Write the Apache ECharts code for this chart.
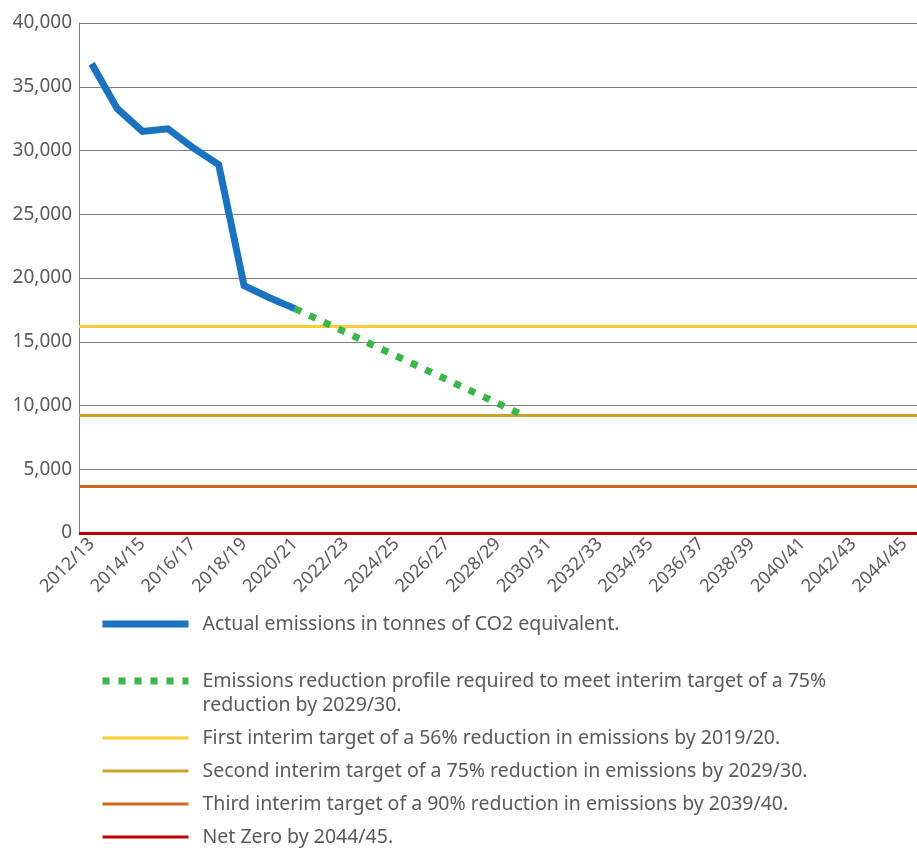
<!DOCTYPE html>
<html>
<head>
<meta charset="utf-8">
<script src="https://cdn.jsdelivr.net/npm/echarts@6/dist/echarts.min.js"></script>
<style>
html,body{margin:0;padding:0;background:#fff;}
#chart{width:917px;height:850px;}
</style>
</head>
<body>
<div id="chart"></div>
<script>
const categories = ['2012/13','2013/14','2014/15','2015/16','2016/17','2017/18','2018/19','2019/20','2020/21','2021/22','2022/23','2023/24','2024/25','2025/26','2026/27','2027/28','2028/29','2029/30','2030/31','2031/32','2032/33','2033/34','2034/35','2035/36','2036/37','2037/38','2038/39','2039/40','2040/41','2041/42','2042/43','2043/44','2044/45'];
const actualEmissions = [36800, 33300, 31500, 31700, 30200, 28900, 19400, 18450, 17600];
// Reduction profile: known endpoints only (2020/21 and 2029/30), joined as a straight line
const profileCategories = ['2020/21', '2029/30'];
const profileValues = [17600, 9225];
const firstTarget = 16236;
const secondTarget = 9225;
const thirdTarget = 3690;
const netZero = 0;
const yTicks = {min: 0, max: 40000, interval: 5000};

const names = {
  actual: 'Actual emissions in tonnes of CO2 equivalent.',
  // leading blank line keeps the first text line level with the legend icon
  profile: '\nEmissions reduction profile required to meet interim target of a 75%\nreduction by 2029/30.',
  first: 'First interim target of a 56% reduction in emissions by 2019/20.',
  second: 'Second interim target of a 75% reduction in emissions by 2029/30.',
  third: 'Third interim target of a 90% reduction in emissions by 2039/40.',
  zero: 'Net Zero by 2044/45.'
};

const FONT = 'Noto Sans';
const TXT = '#5a5a5a';

const actualData = categories.map((c, i) => i < actualEmissions.length ? actualEmissions[i] : null);
const profileData = categories.map(c => {
  const k = profileCategories.indexOf(c);
  return k >= 0 ? profileValues[k] : null;
});

function targetSeries(name, value, color, z) {
  return {
    name: name, type: 'line', data: [], color: color, symbol: 'none', z: z,
    lineStyle: {color: color, width: 3},
    markLine: {
      silent: true, symbol: ['none', 'none'], animation: false,
      label: {show: false},
      lineStyle: {color: color, width: 3, type: 'solid'},
      emphasis: {disabled: true},
      data: [{yAxis: value}]
    }
  };
}

const chart = echarts.init(document.getElementById('chart'), null, {renderer: 'canvas'});
chart.setOption({
  animation: false,
  backgroundColor: '#fff',
  textStyle: {fontFamily: FONT},
  grid: {left: 79, right: 0, top: 23, bottom: 317, containLabel: false},
  xAxis: {
    type: 'category', data: categories, boundaryGap: true,
    axisLine: {show: true, lineStyle: {color: '#808080', width: 1}},
    axisTick: {show: false},
    axisLabel: {rotate: 45, interval: 1, color: TXT, fontSize: 18, fontFamily: FONT, margin: 8}
  },
  yAxis: {
    type: 'value', min: yTicks.min, max: yTicks.max, interval: yTicks.interval,
    axisLine: {show: true, lineStyle: {color: '#808080', width: 1}},
    axisTick: {show: false},
    splitLine: {show: true, lineStyle: {color: '#808080', width: 1}},
    axisLabel: {color: TXT, fontSize: 19, fontFamily: FONT, margin: 7}
  },
  legend: {
    orient: 'vertical', left: 99, top: 612, padding: 0, height: 238,
    itemWidth: 86, itemHeight: 14, itemGap: 9,
    selectedMode: false,
    lineStyle: {width: 'inherit'},
    itemStyle: {opacity: 0},
    textStyle: {color: TXT, fontSize: 19.5, fontFamily: FONT, lineHeight: 24, padding: [0, 0, 0, 9]},
    data: [names.actual, names.profile, names.first, names.second, names.third, names.zero]
  },
  series: [
    {
      name: names.actual, type: 'line', data: actualData, color: '#1b72be', symbol: 'none', z: 10,
      lineStyle: {color: '#1b72be', width: 7, join: 'miter'}
    },
    {
      name: names.profile, type: 'line', data: profileData, connectNulls: true, color: '#39b54a', symbol: 'none', z: 8,
      lineStyle: {color: '#39b54a', width: 7, type: [7, 9], cap: 'butt'}
    },
    targetSeries(names.first, firstTarget, '#f9cf33', 5),
    targetSeries(names.second, secondTarget, '#cfa126', 5),
    targetSeries(names.third, thirdTarget, '#d2661f', 5),
    targetSeries(names.zero, netZero, '#c00000', 5)
  ]
});
</script>
</body>
</html>
